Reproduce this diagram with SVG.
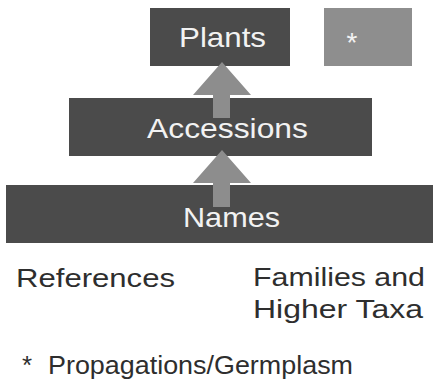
<svg xmlns="http://www.w3.org/2000/svg" width="433" height="389" viewBox="0 0 433 389">
<style>
.box{fill:#4b4b4b}
.lt{fill:#8e8e8e}
.arr{fill:#8d8d8d}
.wt{font-family:"Liberation Sans",Arial,sans-serif;fill:#f2f2f2;font-size:28px}
.bt{font-family:"Liberation Sans",Arial,sans-serif;fill:#2e2e2e;font-size:26px}
</style>
<rect width="433" height="389" fill="#ffffff"/>
<g id="names"><rect class="box" x="6" y="185" width="427" height="58"/></g>
<g id="accessions"><rect class="box" x="69" y="98" width="303" height="58"/></g>
<g id="plants"><rect class="box" x="150" y="8" width="140" height="58"/></g>
<g id="star"><rect class="lt" x="324" y="8" width="88" height="58"/>
<text class="wt" x="352" y="52" text-anchor="middle">*</text></g>
<g id="connectors">
<polygon class="arr" points="222,62 251,95 230,95 230,118 213,118 213,95 193,95"/>
<polygon class="arr" points="222,150 251,183 230,183 230,207 213,207 213,183 193,183"/>
</g>
<g id="labels">
<text class="wt" x="179" y="47" textLength="87" lengthAdjust="spacingAndGlyphs">Plants</text>
<text class="wt" x="147" y="138" textLength="161" lengthAdjust="spacingAndGlyphs">Accessions</text>
<text class="wt" x="183" y="227" textLength="97" lengthAdjust="spacingAndGlyphs">Names</text>
</g>
<g id="references"><text class="bt" x="16" y="287" textLength="159" lengthAdjust="spacingAndGlyphs">References</text></g>
<g id="families"><text class="bt" x="253" y="286" textLength="172" lengthAdjust="spacingAndGlyphs">Families and</text>
<text class="bt" x="253" y="318" textLength="170" lengthAdjust="spacingAndGlyphs">Higher Taxa</text></g>
<g id="legend"><text class="bt" x="22" y="374">*</text>
<text class="bt" x="48" y="374" textLength="305" lengthAdjust="spacingAndGlyphs">Propagations/Germplasm</text></g>
</svg>
